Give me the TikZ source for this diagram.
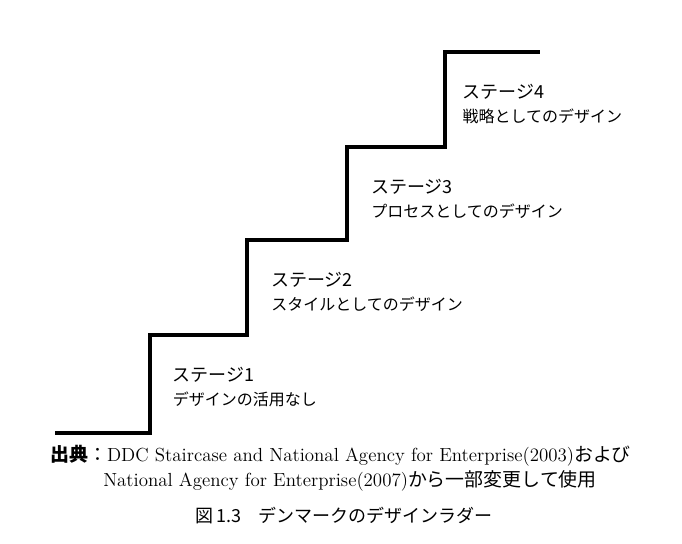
\documentclass[tikz,border=0pt]{standalone}
\usepackage{fontspec}
\usetikzlibrary{positioning}
\newfontfamily\jpfont{Noto Sans CJK JP}
\definecolor{color_stair}{HTML}{000000}
\def\stairwidth{3.2pt}

\begin{document}
\begin{tikzpicture}[x=0.75pt,y=-0.75pt]
        \useasboundingbox (0,0) rectangle (682,543);
        % corners of the stairs
        \coordinate (s0) at (55,433);
        \coordinate (c1) at (150,335);
        \coordinate (c2) at (247,240);
        \coordinate (c3) at (347,147);
        \coordinate (c4) at (445,52);
        \coordinate (s5) at (540,52);

        % the stairs
        \draw[color_stair, line width=\stairwidth, line join=miter]
            (s0) -| (c1) -| (c2) -| (c3) -| (c4) -- (s5);

        % stage labels
        \tikzset{stagelabel/.style={anchor=north west, inner sep=0pt, align=left,
            font=\jpfont\fontsize{13.5pt}{18pt}\selectfont}}
        \node[stagelabel, below right=24pt and 17pt of c1] (st1) {ステージ1\\{\fontsize{12pt}{12pt}\selectfont デザインの活用なし}};
        \node[stagelabel, below right=24pt and 18pt of c2] (st2) {ステージ2\\{\fontsize{12pt}{12pt}\selectfont スタイルとしてのデザイン}};
        \node[stagelabel, below right=24pt and 18pt of c3] (st3) {ステージ3\\{\fontsize{12pt}{12pt}\selectfont プロセスとしてのデザイン}};
        \node[stagelabel, below right=24pt and 13pt of c4] (st4) {ステージ4\\{\fontsize{12pt}{12pt}\selectfont 戦略としてのデザイン}};

        % caption
        \node[anchor=west, inner sep=0pt, font=\fontsize{14.2pt}{16pt}\selectfont] (src1) at (50,456)
            {{\jpfont{\bfseries 出典}：}DDC Staircase and National Agency for Enterprise(2003){\jpfont および}};
        \node[anchor=west, inner sep=0pt, font=\fontsize{14.2pt}{16pt}\selectfont] (src2) at (103,481)
            {National Agency for Enterprise(2007){\jpfont から一部変更して使用}};
        \node[anchor=center, inner sep=0pt, font=\jpfont\fontsize{13.5pt}{15pt}\selectfont] (fig) at (344,516)
            {図\,1.3\hspace{0.9em}デンマークのデザインラダー};
\end{tikzpicture}
\end{document}
